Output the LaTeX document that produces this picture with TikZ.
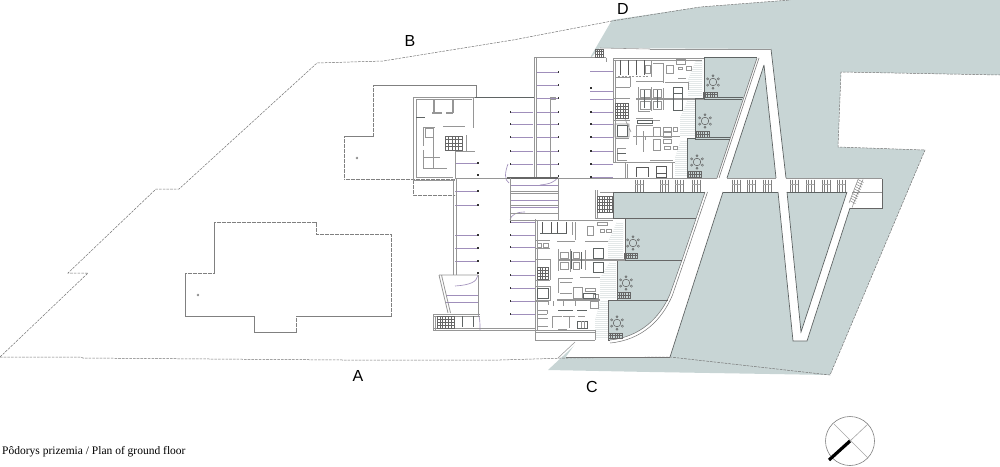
\documentclass[tikz,border=0pt]{standalone}
\usepackage{fontspec}
\setmainfont{Liberation Serif}
\newfontfamily\lettersf{Liberation Sans}
\definecolor{court}{HTML}{C8D5D5}
\definecolor{wallc}{HTML}{969696}
\definecolor{darkc}{HTML}{5F6464}
\definecolor{parkc}{HTML}{A08FBB}
\definecolor{terr}{HTML}{E3E8E8}
\tikzset{
 wall/.style={draw=wallc,line width=.8pt},
 wallb/.style={draw=wallc,line width=1.3pt},
 thinw/.style={draw=wallc,line width=.55pt},
 darkw/.style={draw=darkc,line width=.7pt},
 darkb/.style={draw=black!65,line width=.8pt},
 site/.style={draw=black!55,line width=.5pt,dash pattern=on 2.6pt off 1.1pt},
 plot/.style={draw=black!50,line width=.55pt,dash pattern=on 2.2pt off .3pt},
 park/.style={draw=parkc,line width=.65pt},
 grd/.style={draw=black!60,line width=.4pt},
 letter/.style={font=\lettersf\fontsize{16}{16}\selectfont,text=black,inner sep=0pt},
}
\newcommand\gbox[6]{%
 \draw[grd] (#1,#2) rectangle (#3,#4);
 \foreach \i in {1,...,#5}{\pgfmathsetmacro\vx{#1+(#3-#1)*\i/(#5+1)}\draw[grd] (\vx,#2) -- (\vx,#4);}
 \foreach \i in {1,...,#6}{\pgfmathsetmacro\vy{#2+(#4-#2)*\i/(#6+1)}\draw[grd] (#1,\vy) -- (#3,\vy);}
}
\newcommand\bwin[1]{%
 \foreach \d in {0,2.6,5.2,7.8}{\draw[draw=black!50,line width=.5pt] ({#1+\d},179.5) -- ({#1+\d},191.5);}
 \draw[draw=black!35,line width=.4pt] (#1,184) -- ({#1+7.8},184);
}
\newcommand\rtable[2]{%
 \draw[draw=black!65,line width=.5pt] (#1,#2) circle[radius=3.8pt];
 \foreach \a in {30,90,150,210,270,330}{\draw[draw=black!65,line width=.45pt] ({#1+6.2*cos(\a)},{#2+6.2*sin(\a)}) circle[radius=1.1pt];}
}
\newcommand\thatch[3]{%
 \pgfmathtruncatemacro\nxt{#2+2}%
 \foreach \y in {#2,\nxt,...,#3}{\draw[white,line width=.5pt] (#1,\y.5) -- ++(28,0);}
}
\newcommand\pdot[2]{\fill[black!80] ({#1-.8},{#2-.8}) rectangle ({#1+.8},{#2+.8});}
\begin{document}
\begin{tikzpicture}[x=1pt,y=-1pt]
\useasboundingbox (0,0) rectangle (1000,466);
\fill[court] (612,20) -- (700,7) -- (790,0) -- (1000,0) -- (1000,75) -- (841,72) -- (838,147) -- (925,150) -- (830,375) -- (650,372) -- (548,370) -- (578,342) -- (591,56) -- cycle;
\fill[white] (600,48) -- (771,49) -- (786,179) -- (882,179) -- (882,208) -- (850,208) -- (807,341) -- (793,341) -- (778,192) -- (723,192) -- (670,357) -- (566,357) -- (578,340) -- (535,340) -- (535,58) -- (592,57) -- cycle;
\fill[court] (704,58) -- (757,58) -- (717,178) -- (687,178) -- (687,138) -- (695,138) -- (695,98) -- (704,98) -- cycle;
\fill[court] (764,65) -- (776,178) -- (727,178) -- cycle;
\fill[court] (787,192) -- (847,192) -- (801,332) -- cycle;
\fill[court] (613,192) -- (705,192) -- (682,260) -- (670,294) .. controls (660,318) and (640,337) .. (610,340) -- (608,340) -- (608,300) -- (617,300) -- (617,260) -- (625,260) -- (625,218) -- (613,218) -- cycle;
\begin{scope}
\clip (696,60) -- (702,60) -- (702,97) -- (688,97) -- (688,80) -- cycle;
\fill[terr] (680,55) rectangle (710,100);
\thatch{685}{60}{97}
\end{scope}
\begin{scope}
\clip (688,100) -- (695,100) -- (695,137) -- (680,137) -- (680,118) -- cycle;
\fill[terr] (675,98) rectangle (700,140);
\thatch{675}{100}{137}
\end{scope}
\begin{scope}
\clip (681,140) -- (687,140) -- (687,177) -- (675,177) -- (675,158) -- cycle;
\fill[terr] (670,138) rectangle (690,180);
\thatch{670}{140}{177}
\end{scope}
\begin{scope}
\clip (617,222) -- (623,222) -- (623,258) -- (608,258) -- (608,242) -- cycle;
\fill[terr] (603,220) rectangle (626,260);
\thatch{603}{222}{258}
\end{scope}
\begin{scope}
\clip (610,262) -- (616,262) -- (616,298) -- (600,298) -- (600,278) -- cycle;
\fill[terr] (597,260) rectangle (618,300);
\thatch{597}{262}{298}
\end{scope}
\begin{scope}
\clip (601,300) -- (608,300) -- (608,339) -- (595,339) -- (595,320) -- cycle;
\fill[terr] (592,298) rectangle (610,341);
\thatch{592}{300}{339}
\end{scope}
\draw[site] (0,357) -- (80,357) -- (83,358) -- (210,359) -- (343,360) -- (500,360) -- (567,358) -- (670,357) -- (830,375) -- (925,150) -- (838,147) -- (841,72) -- (1000,75);
\draw[site] (0,357) -- (88,273) -- (68,273) -- (156,189) -- (179,189) -- (317,63) -- (383,61) -- (420,55) -- (513,40) -- (612,21) -- (700,7) -- (790,0);
\draw[plot] (185,273) -- (214,273) -- (214,222) -- (316,222) -- (316,234) -- (391,234) -- (391,316) -- (296,316) -- (296,332) -- (254,332) -- (254,316) -- (185,316) -- cycle;
\draw[plot] (198,295) circle[radius=1pt];
\draw[plot] (476,97) -- (476,85) -- (373,85) -- (373,136) -- (344,136) -- (344,179.5) -- (455,179.5);
\draw[plot] (413,179.5) -- (413,195) -- (455,195);
\draw[plot] (357,158) circle[radius=1pt];
\draw[thinw] (575,342) -- (558,358);
\foreach \y in {72,85,98,112,124,137,151,164}{\draw[park] (536,\y) -- (558,\y);\pdot{558.5}{\y}}
\foreach \y in {112,124,137,151,164}{\draw[park] (510,\y) -- (533,\y);\pdot{510.5}{\y}}
\foreach \y in {71,91,99,112,124,137,151,164,177}{\draw[park] (590,\y) -- (613,\y);}
\foreach \y in {88,112,124,137,151,164,177}{\pdot{591}{\y}}
\foreach \y in {163,191,205,235,248,261}{\draw[park] (455,\y) -- (478,\y);\pdot{478}{\y}}
\foreach \y in {222,235,247,261,275,288,301,314}{\draw[park] (510,\y) -- (535,\y);\pdot{510.5}{\y}}
\foreach \y in {295,302}{\draw[park] (446,\y) -- (478,\y);}
\draw[park] (510,185) -- (558,185);
\draw[park] (510,200) -- (558,200);
\draw[park] (510,207) -- (558,207);
\pdot{478}{175}\pdot{478}{273}\pdot{558.5}{176}
\draw[park] (508,164) .. controls (505,172) and (504,180) .. (509,183);
\draw[park] (558,177) .. controls (555,182) and (550,184) .. (540,185);
\draw[park] (478,275) .. controls (477,282) and (470,285) .. (455,286);
\draw[park] (510,220) .. controls (511,215) and (516,212) .. (525,212);
\draw[park] (478,314) .. controls (480,318) and (480,322) .. (480,330);
\draw[wall] (413,97) -- (475,97) (416,99.5) -- (472,99.5);
\draw[wall] (413,97) -- (413,180) -- (455,180) (416,99.5) -- (416,177) -- (453,177);
\draw[wall] (473.5,97) -- (473.5,128);
\draw[wallb] (434,99) -- (434,113) (453,99) -- (453,113) (432,113) -- (442,113) (446,113) -- (453,113);
\draw[darkw] (416,117) -- (425,117);
\draw[wall] (423,127) -- (435,127) (423,127) -- (423,146) (423,150) -- (423,168) (423,168) -- (447,168) (423,157) -- (440,157);
\draw[wall] (433,137) -- (433,168);
\draw[thinw] (425,128) rectangle (433,137);
\draw[wall] (443,126) -- (465,126) (466,135) -- (466,152);
\gbox{445}{136}{462}{150}{4}{3}
\draw[wall] (455,151) -- (475,151) (455,151) -- (455,179);
\draw[darkw] (475,97) -- (534,97);
\draw[wall] (534,58) -- (534,177) (536.5,58) -- (536.5,177);
\draw[wall] (534,57.5) -- (606,57.5) (606,57.5) -- (606,62);
\draw[thinw] (550,97) -- (550,178);
\draw[thinw] (551,97) -- (555,97) -- (555,99) -- (551,99);
\gbox{595}{49}{603}{57}{3}{2}
\draw[draw=black!60,line width=1.5pt,dash pattern=on .6pt off .4pt] (507,178) -- (558,178);
\draw[wall] (455,178) -- (507,178) (558,178) -- (612,178);
\draw[thinw] (510,178) -- (510,220) (558,178) -- (558,220);
\foreach \y in {191,193,205,213}{\draw[thinw] (510,\y) -- (558,\y);}
\draw[wall] (510,220) -- (613,220);
\draw[wall] (453.5,179) -- (453.5,275) (456,179) -- (456,275);
\draw[wall] (439,275) -- (478,275) (439,275) -- (448,313) (441.5,275) -- (450.5,313);
\draw[thinw] (478,275) -- (478,314);
\draw[wall] (433,314) -- (480,314) (433,316.5) -- (480,316.5) (433,314) -- (433,330) (435.5,316) -- (435.5,330);
\draw[wall] (433,330.5) -- (535,330.5) (433,328) -- (535,328);
\gbox{437}{316}{454}{328}{5}{3}
\draw[darkw] (462,316) -- (462,327) (473,316) -- (473,327);
\draw[wall] (613,58) -- (704,58) (613,60.5) -- (702,60.5);
\draw[wall] (613,58) -- (613,100) (615.5,60) -- (615.5,100);
\draw[wall] (613,98) -- (630,98) (613,98) -- (613,162) (615.5,98) -- (615.5,162);
\draw[wall] (613,162) -- (625,162) (625,162) -- (625,178) (627.5,164) -- (627.5,178);
\draw[wall] (625,162) -- (675,162);
\draw[darkb] (620,60) -- (620,75) (628,60) -- (628,75) (636,60) -- (636,75) (644,60) -- (644,75);
\draw[thinw,dash pattern=on 2pt off 1.5pt] (618,76) -- (648,76);
\draw[wall] (615,77) -- (630,77) (615,87) -- (630,87) (630,77) -- (630,87);
\draw[wall] (651,60) -- (651,77) (653,63) -- (663,63) (663,63) -- (663,83) (636,81) -- (663,81);
\draw[thinw] (666,65) rectangle (673,73) (676,59.5) rectangle (685,64) (678,67) rectangle (682,69) (686,66) rectangle (691,70);
\draw[wall] (678,78) -- (686,78) (665,82) -- (688,82) (688,82) -- (688,90);
\draw[thinw] (645,65) rectangle (650,73);
\draw[wallb] (636,99) -- (704,99);
\draw[wall] (638,87) -- (638,111) (651,87) -- (651,111) (663,88) -- (663,110);
\draw[thinw] (640,89) rectangle (650,97) (653,89) rectangle (661,97) (640,101) rectangle (650,109) (653,101) rectangle (661,109);
\draw[darkw] (673,87) rectangle (682,110) (673,93) -- (682,93);
\draw[darkw] (644,90) -- (644,108) (657,90) -- (657,108);
\draw[wall] (640,120) -- (660,120) (638,111) -- (650,111);
\gbox{615}{103}{628}{118}{4}{4}
\draw[thinw] (613,120) -- (630,120);
\draw[darkw] (617,125) rectangle (627,136);
\draw[thinw] (615,124) rectangle (629,137) (625,119) -- (631,132);
\draw[wall] (615,138) -- (629,138) (617,148) -- (617,160) (617,160) -- (627,160) (617,148) -- (626,148);
\draw[darkw] (617,153) -- (626,153);
\draw[wall] (636,125) -- (653,125) (636,125) -- (636,145) (643,131) -- (643,152) (636,118) -- (653,118);
\draw[darkw] (637,120) rectangle (652,123);
\draw[thinw] (653,127) rectangle (660,136) (653,139) rectangle (660,150) (663,127) rectangle (671,131) (663,132) rectangle (671,137) (663,139) rectangle (671,143) (664,146) rectangle (670,149) (673,127) rectangle (677,131) (673,146) rectangle (677,149);
\draw[wall] (633,136) -- (680,136) (645,137) -- (645,140);
\draw[wall] (650,160) -- (673,160);
\draw[darkb] (636,167) -- (648,167) (636,167) -- (636,177) (648,167) -- (648,177);
\draw[darkb] (656,166.5) rectangle (666,177) (656,173) -- (666,173);
\draw[wall] (672,162) -- (672,178);
\draw[darkw] (704,57.5) -- (757,57.5);
\draw[darkw] (704,58) -- (704,98) -- (695,98) -- (695,138) -- (687,138) -- (687,178);
\draw[thinw,draw=black!55] (757,58) -- (717,178) (759,58) -- (719,178);
\draw[darkw] (704,97.5) -- (743,97.5) (704,99.5) -- (742,99.5) (695,137) -- (730,137) (695,139) -- (730,139);
\draw[darkw] (764,65) -- (776,178) (764,65) -- (727,178) (771,49) -- (786,178);
\draw[thinw] (600,48) -- (650,49);
\draw[wall] (650,49) -- (771,49);
\draw[wall] (600,178.5) -- (717,178.5) (727,178.5) -- (776,178.5) (786,178.5) -- (882,178.5);
\draw[darkw] (613,192) -- (705,192) (723,192) -- (778,192) (787,192) -- (847,192);
\draw[draw=black!60,line width=1pt] (882,179) -- (882,208) -- (850,208);
\draw[thinw] (852,192) -- (882,192);
\foreach \x in {635,660,675,692,732,747,763,790,806,822,837}{\bwin{\x}}
\draw[thinw] (863,179.5) -- (852,207.5) (858,179.5) -- (849,203);
\foreach \t in {0,.1,...,1}{\draw[draw=black!55,line width=.4pt] ({858+\t*(-9)},{179.5+\t*23.5}) -- ++(5.5,3);}
\draw[darkw] (778,192) -- (793,341) -- (807,341) -- (850,208);
\draw[darkw] (787,192) -- (801,332) -- (847,192);
\draw[darkw] (723,192) -- (670,357);
\draw[draw=black!55,line width=.5pt] (566,357) -- (670,357);
\draw[draw=black!60,line width=.7pt] (613,192) -- (613,218) -- (625,218) -- (625,260) -- (617,260) -- (617,300) -- (608,300) -- (608,340) -- (610,340);
\draw[draw=black!55,line width=.5pt] (705,192) -- (682,260) -- (670,294) .. controls (660,318) and (640,337) .. (610,340);
\draw[draw=black!55,line width=.5pt] (707.5,192) -- (684.5,260) -- (672.5,295) .. controls (662,320) and (642,340) .. (610,343);
\draw[draw=black!60,line width=.9pt] (625,218.5) -- (696,218.5) (617,260) -- (682,260) (608,300) -- (668,300);
\draw[wall] (595,190) -- (595,218) (597.5,190) -- (597.5,218) (595,218) -- (613,218);
\gbox{597}{196}{612}{212}{5}{4}
\draw[wall] (613,192) -- (600,192);
\gbox{703}{92}{717}{97}{5}{1}\gbox{696}{131}{709}{137}{5}{1}\gbox{688}{171}{701}{177}{5}{1}
\gbox{624}{253}{637}{258}{5}{1}\gbox{617}{292}{630}{298}{5}{1}\gbox{608}{333}{622}{338}{5}{1}
\rtable{713}{82}\rtable{705}{121}\rtable{697}{162}
\rtable{633}{243}\rtable{626}{283}\rtable{617}{323}
\draw[wall] (535,219) -- (535,340) (537.5,220) -- (537.5,330);
\draw[wall] (535,330) -- (595,330) (535,340) -- (595,340) (535,332.5) -- (595,332.5) (595,330) -- (595,340);
\draw[darkb] (542,222) -- (542,233) (551,222) -- (551,233) (557,222) -- (557,233) (566,222) -- (566,233);
\draw[darkw] (540,233) -- (567,233);
\draw[wall] (575,222) -- (575,240) (572,222) -- (572,235) (557,241) -- (575,241) (535,240) -- (550,240);
\draw[thinw] (537,243) rectangle (541,247) (543,243) rectangle (548,247) (587,226) rectangle (593,235) (597,222) rectangle (607,225) (600,229) rectangle (604,232) (606,229) rectangle (611,232);
\draw[wall] (585,241) -- (608,241) (535,248) -- (550,248);
\draw[wall] (535,259) -- (550,259) (550,259) -- (550,280) (535,280) -- (550,280);
\gbox{537}{267}{548}{279}{3}{3}
\draw[wallb] (558,260) -- (625,260);
\draw[darkw] (593,248) rectangle (603,258) (593,262) rectangle (603,272);
\draw[wall] (558,249) -- (558,271) (570,249) -- (570,272) (585,250) -- (585,270);
\draw[darkw] (571,251) -- (571,269) (581,252) -- (581,269);
\draw[thinw] (560,252) rectangle (568,258) (560,262) rectangle (568,269) (573,252) rectangle (579,258) (573,262) rectangle (579,269);
\draw[wall] (558,278) -- (573,278) (558,278) -- (558,293) (560,282) -- (572,282) (560,293) -- (572,293) (580,277) -- (600,277);
\draw[thinw] (573,287) rectangle (582,298) (585,288) rectangle (595,291) (593,294) rectangle (598,298);
\draw[darkw] (583,293) rectangle (595,298);
\draw[darkw] (537,288) rectangle (548,298);
\draw[thinw] (535,286) rectangle (550,300);
\draw[wallb] (557,300) -- (600,300);
\draw[wall] (535,301) -- (548,301) (548,301) -- (548,305) (553,301) -- (553,306);
\draw[thinw] (590,301) rectangle (598,308) (563,301) -- (563,306) (575,301) -- (575,306);
\draw[wall] (537,310) -- (547,310) (537,314) -- (547,314) (547,310) -- (547,314);
\draw[wall] (537,318) -- (548,318) (537,318) -- (537,326) (537,326) -- (548,326);
\draw[wall] (552,316) -- (562,316) (552,316) -- (552,328) (563,316) -- (575,316) (569,316) -- (569,328);
\draw[darkw] (558,310) -- (573,310) (577,310) -- (587,310);
\draw[thinw] (578,316) -- (585,316);
\draw[darkw] (577,321) rectangle (587,328);
\draw[thinw] (581,321) -- (581,328) (584,321) -- (584,328);
\draw[wallb] (558,330) -- (567,330);
\node[letter] (lblA) at (358,376) {A};
\node[letter] (lblB) at (410,41) {B};
\node[letter] (lblC) at (592,387) {C};
\node[letter] (lblD) at (623,9) {D};
\node[anchor=base west,inner sep=0pt,font=\fontsize{11.5}{11.5}\selectfont] (caption) at (2,454) {Pôdorys prizemia / Plan of ground floor};
\coordinate (north) at (850,441);
\draw[draw=black!50,line width=.6pt] (north) circle[radius=24.5pt];
\draw[draw=black!35,line width=.6pt] (834,424) -- (868,458) (868,424) -- (850,441);
\draw[black,line width=3.2pt] (829,460) -- (850,441);
\end{tikzpicture}
\end{document}
